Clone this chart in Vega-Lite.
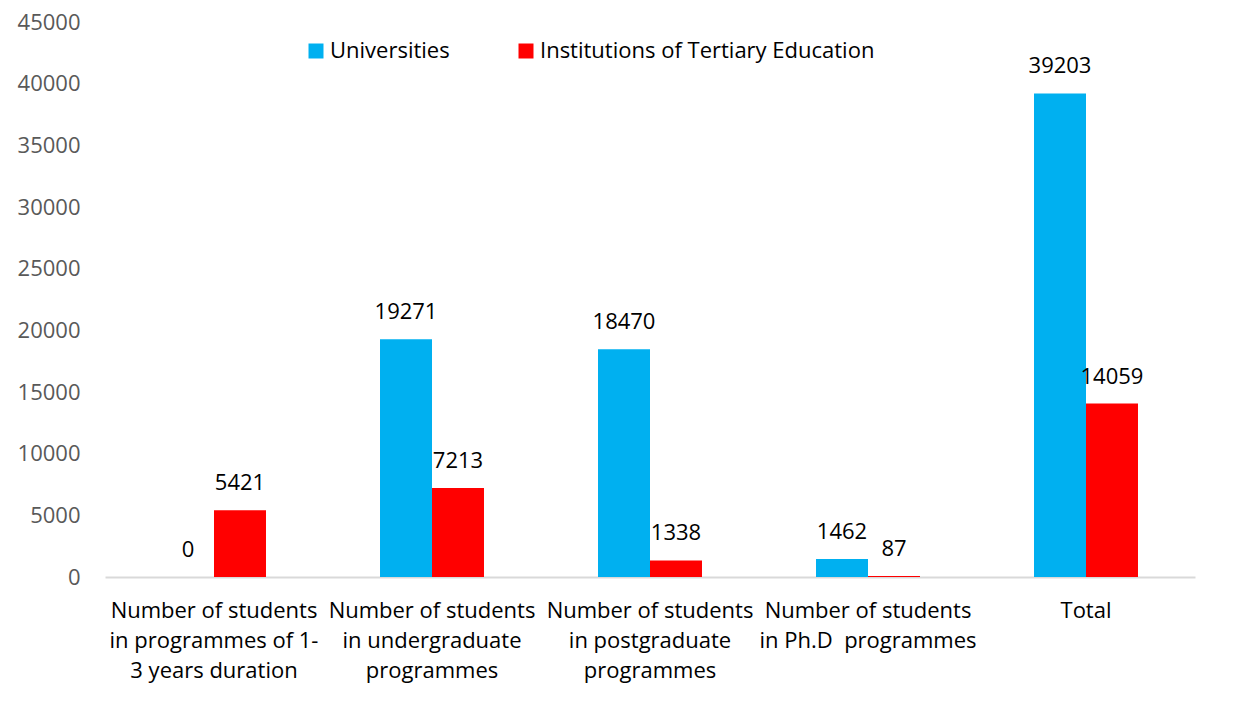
{
  "$schema": "https://vega.github.io/schema/vega-lite/v6.json",
  "autosize": {"type": "none"},
  "width": 1090,
  "height": 555,
  "padding": {"left": 105, "top": 22, "right": 38, "bottom": 144},
  "background": "white",
  "config": {
    "font": "Open Sans",
    "view": {"stroke": null}
  },
  "data": {
    "values": [
      {"category": "Number of students\nin programmes of 1-\n3 years duration", "type": "Universities", "value": 0},
      {"category": "Number of students\nin programmes of 1-\n3 years duration", "type": "Institutions of Tertiary Education", "value": 5421},
      {"category": "Number of students\nin undergraduate\nprogrammes", "type": "Universities", "value": 19271},
      {"category": "Number of students\nin undergraduate\nprogrammes", "type": "Institutions of Tertiary Education", "value": 7213},
      {"category": "Number of students\nin postgraduate\nprogrammes", "type": "Universities", "value": 18470},
      {"category": "Number of students\nin postgraduate\nprogrammes", "type": "Institutions of Tertiary Education", "value": 1338},
      {"category": "Number of students\nin Ph.D\u00a0 programmes", "type": "Universities", "value": 1462},
      {"category": "Number of students\nin Ph.D\u00a0 programmes", "type": "Institutions of Tertiary Education", "value": 87},
      {"category": "Total", "type": "Universities", "value": 39203},
      {"category": "Total", "type": "Institutions of Tertiary Education", "value": 14059}
    ]
  },
  "encoding": {
    "x": {
      "field": "category",
      "type": "nominal",
      "sort": null,
      "scale": {"paddingInner": 0.523, "paddingOuter": 0.2615},
      "axis": {
        "title": null,
        "labelAngle": 0,
        "labelExpr": "split(datum.value, '\\n')",
        "labelFontSize": 22,
        "labelColor": "#000000",
        "labelLineHeight": 30,
        "labelPadding": 23,
        "labelBaseline": "top",
        "ticks": false,
        "domainColor": "#D9D9D9",
        "domainWidth": 2,
        "labelLimit": 0
      }
    },
    "xOffset": {"field": "type", "type": "nominal", "sort": ["Universities", "Institutions of Tertiary Education"]},
    "y": {
      "field": "value",
      "type": "quantitative",
      "scale": {"domain": [0, 45000], "nice": false},
      "axis": {
        "title": null,
        "values": [0, 5000, 10000, 15000, 20000, 25000, 30000, 35000, 40000, 45000],
        "format": "d",
        "grid": false,
        "domain": false,
        "ticks": false,
        "labelFontSize": 22,
        "labelColor": "#595959",
        "labelPadding": 25
      }
    }
  },
  "layer": [
    {
      "mark": {"type": "bar"},
      "encoding": {
        "color": {
          "field": "type",
          "type": "nominal",
          "sort": ["Universities", "Institutions of Tertiary Education"],
          "scale": {"domain": ["Universities", "Institutions of Tertiary Education"], "range": ["#00B0F0", "#FF0000"]},
          "legend": {
            "title": null,
            "orient": "none",
            "legendX": 200,
            "legendY": 18,
            "direction": "horizontal",
            "symbolType": "square",
            "symbolSize": 225,
            "symbolStrokeWidth": 0,
            "labelFontSize": 22,
            "labelColor": "#000000",
            "labelOffset": 3,
            "columnPadding": 65,
            "labelLimit": 0
          }
        }
      }
    },
    {
      "mark": {"type": "text", "baseline": "bottom", "dy": -15, "fontSize": 22, "color": "#000000"},
      "encoding": {
        "text": {"field": "value", "type": "quantitative", "format": "d"}
      }
    }
  ]
}
